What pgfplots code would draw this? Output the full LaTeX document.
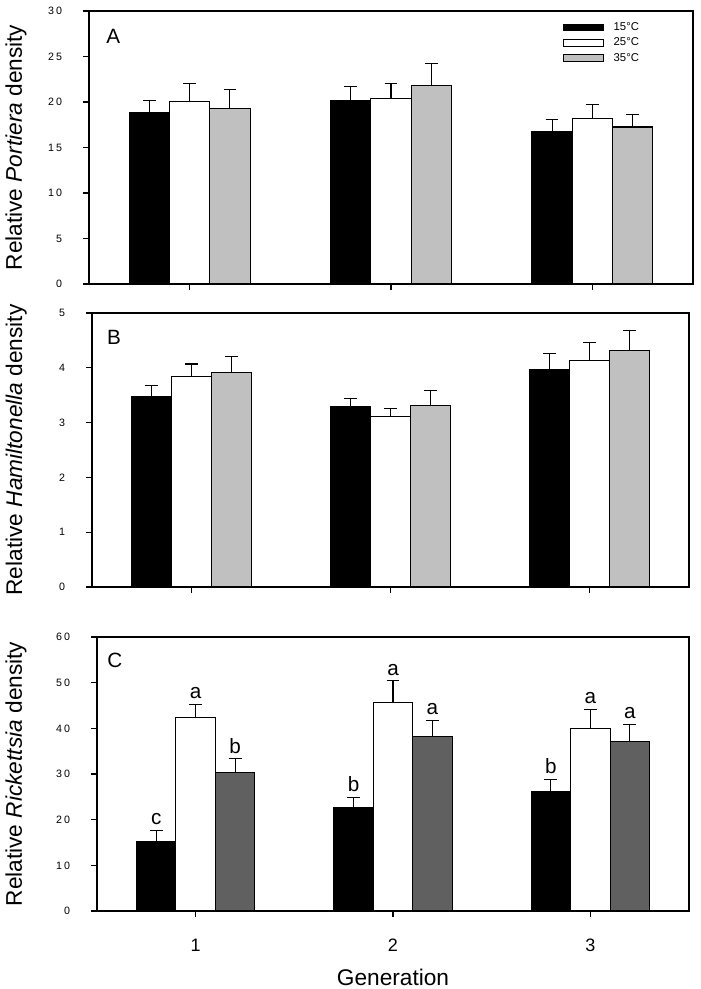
\documentclass[border=0pt]{standalone}
\usepackage{fontspec}
\setmainfont{Liberation Sans}
\usepackage{pgfplots}
\pgfplotsset{compat=1.18}

\definecolor{lgray}{HTML}{C0C0C0}
\definecolor{dgray}{HTML}{606060}

\def\tk#1#2{#1\kern1.6pt#2}

\pgfplotsset{
  panel/.style={
    scale only axis,
    anchor=south west,
    clip=false,
    xmin=0.5, xmax=3.5,
    xtick={1,2,3},
    xticklabels={},
    tick align=outside,
    xtick pos=bottom, ytick pos=left,
    major tick length=4.5pt,
    axis line style={line width=0.9pt},
    tick style={line width=0.8pt, black},
    yticklabel style={font=\fontsize{8}{9}\selectfont, anchor=east, inner sep=0pt, xshift=-15.5pt},
    ylabel style={font=\fontsize{17}{20}\selectfont, anchor=center},
  },
  % bars are placed at their own x (group centre -0.2, 0, +0.2)
  sbar/.style={
    ybar, bar width=0.2, bar shift=0pt, draw=black, line width=0.8pt,
    legend image code/.code={\draw[##1, line width=0.7pt] (0pt,-2.4pt) rectangle (30pt,2.4pt);},
    error bars/y dir=plus, error bars/y explicit,
    error bars/error bar style={line width=0.8pt, black},
    error bars/error mark options={rotate=90, mark size=4.8pt, line width=0.8pt, black},
  },
  letters/.style={
    only marks, mark=none, nodes near coords, point meta=explicit symbolic,
    nodes near coords style={anchor=base, yshift=4pt, inner sep=0pt,
      font=\fontsize{15.5}{17}\selectfont},
  },
}

\begin{document}
\begin{tikzpicture}
\useasboundingbox (0pt,0pt) rectangle (525pt,-741.75pt);

% ---------- A: Portiera ----------
\begin{axis}[panel,
  at={(66.75pt,-213pt)}, width=453pt, height=204.75pt,
  ymin=0, ymax=30, ytick={0,5,...,30},
  yticklabels={0,5,\tk10,\tk15,\tk20,\tk25,\tk30},
  ylabel={Relative \textit{Portiera} density},
  ylabel style={at={(axis description cs:-0.121,0.5)}},
  legend style={at={(0.785,0.968)}, anchor=north west, draw=none, fill=none,
    inner sep=0pt, font=\fontsize{8.5}{9}\selectfont, row sep=0pt,
    /tikz/every odd column/.append style={column sep=5pt}},
  legend cell align=left,
]
\addplot[sbar, fill=black] table[x=x, y=y, y error=e] {
x y e
0.8 18.8 1.4
1.8 20.2 1.55
2.8 16.8 1.25
};
\addlegendentry{15°C}
\addplot[sbar, fill=white] table[x=x, y=y, y error=e] {
x y e
1.0 20.1 1.9
2.0 20.4 1.6
3.0 18.2 1.55
};
\addlegendentry{25°C}
\addplot[sbar, fill=lgray] table[x=x, y=y, y error=e] {
x y e
1.2 19.3 2.05
2.2 21.8 2.4
3.2 17.25 1.4
};
\addlegendentry{35°C}
\node[font=\fontsize{15.5}{17}\selectfont] at (rel axis cs:0.04,0.908) {A};
\end{axis}

% ---------- B: Hamiltonella ----------
\begin{axis}[panel,
  at={(69pt,-440.25pt)}, width=447.75pt, height=205.5pt,
  ymin=0, ymax=5, ytick={0,1,...,5},
  yticklabels={0,1,2,3,4,5},
  ylabel={Relative \textit{Hamiltonella} density},
  ylabel style={at={(axis description cs:-0.127,0.5)}},
]
\addplot[sbar, fill=black] table[x=x, y=y, y error=e] {
x y e
0.8 3.48 0.2
1.8 3.29 0.15
2.8 3.97 0.29
};
\addplot[sbar, fill=white] table[x=x, y=y, y error=e] {
x y e
1.0 3.84 0.23
2.0 3.11 0.15
3.0 4.13 0.34
};
\addplot[sbar, fill=lgray] table[x=x, y=y, y error=e] {
x y e
1.2 3.92 0.29
2.2 3.32 0.26
3.2 4.31 0.37
};
\node[font=\fontsize{15.5}{17}\selectfont] at (rel axis cs:0.037,0.912) {B};
\end{axis}

% ---------- C: Rickettsia ----------
\begin{axis}[panel,
  at={(72.75pt,-683.25pt)}, width=444pt, height=205.5pt,
  ymin=0, ymax=60, ytick={0,10,...,60},
  yticklabels={0,\tk10,\tk20,\tk30,\tk40,\tk50,\tk60},
  xticklabels={1,2,3},
  xticklabel style={font=\fontsize{13.5}{15}\selectfont, anchor=base, yshift=-26pt},
  ylabel={Relative \textit{Rickettsia} density},
  ylabel style={at={(axis description cs:-0.137,0.5)}},
  xlabel={Generation},
  xlabel style={font=\fontsize{17}{20}\selectfont, at={(axis description cs:0.5,-0.241)}, anchor=center},
]
\addplot[sbar, fill=black] table[x=x, y=y, y error=e] {
x y e
0.8 15.2 2.5
1.8 22.7 2.2
2.8 26.2 2.7
};
\addplot[sbar, fill=white] table[x=x, y=y, y error=e] {
x y e
1.0 42.3 3.0
2.0 45.6 4.8
3.0 40.0 4.2
};
\addplot[sbar, fill=dgray] table[x=x, y=y, y error=e] {
x y e
1.2 30.3 3.0
2.2 38.2 3.6
3.2 37.2 3.7
};
\addplot[letters] table[x=x, y=y, meta=l] {
x y l
0.8 17.7 c
1.0 45.3 a
1.2 33.3 b
1.8 24.9 b
2.0 50.4 a
2.2 41.8 a
2.8 28.9 b
3.0 44.2 a
3.2 40.9 a
};
\node[font=\fontsize{15.5}{17}\selectfont] at (rel axis cs:0.030,0.916) {C};
\end{axis}
\end{tikzpicture}
\end{document}
